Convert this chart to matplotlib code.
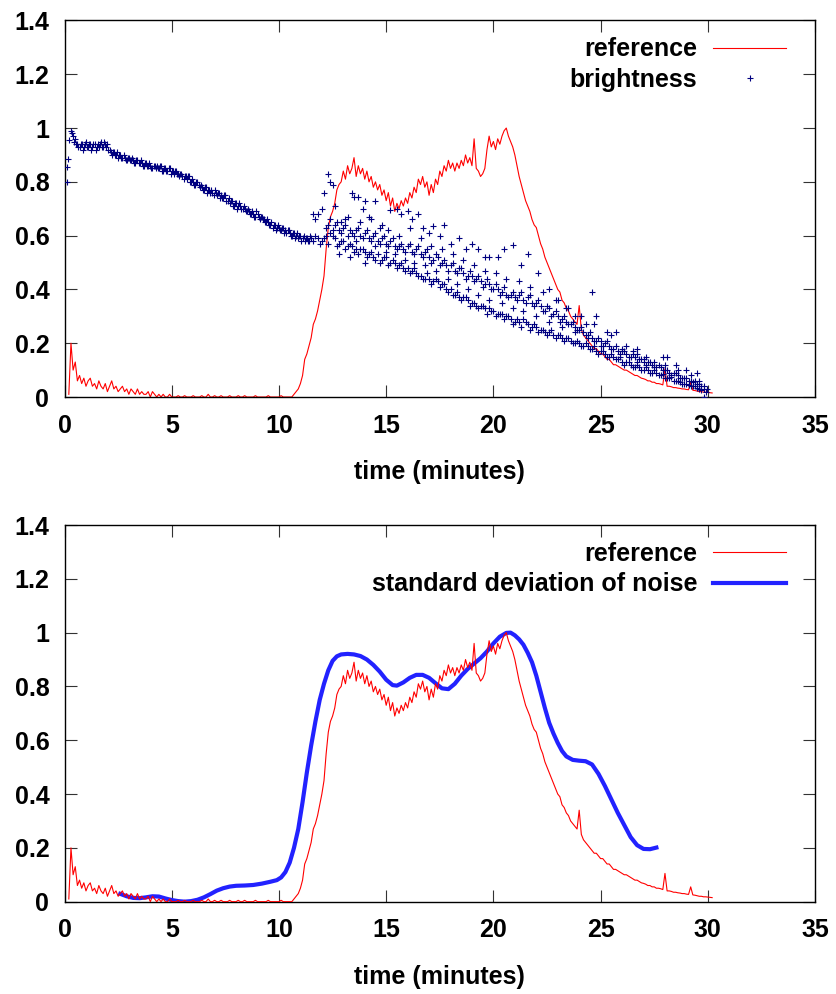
import numpy as np
import matplotlib
matplotlib.use("Agg")
import matplotlib.pyplot as plt

plt.rcParams['font.family'] = ['Liberation Sans', 'DejaVu Sans']
plt.rcParams['font.weight'] = 'bold'
plt.rcParams['axes.labelweight'] = 'bold'

# reference signal, sampled every 0.1 min starting at 0.2 min
ref_start = 0.2
ref_step = 0.1
ref_v = [
    0.01, 0.20, 0.10, 0.13, 0.06, 0.08, 0.05, 0.07, 0.04, 0.06,
    0.07, 0.04, 0.05, 0.03, 0.06, 0.04, 0.03, 0.05, 0.02, 0.04,
    0.06, 0.03, 0.04, 0.02, 0.03, 0.04, 0.02, 0.03, 0.01, 0.03,
    0.02, 0.01, 0.03, 0.01, 0.02, 0.01, 0.01, 0.02, 0.00, 0.02,
    0.01, 0.00, 0.01, 0.00, 0.01, 0.00, 0.00, 0.01, 0.00, 0.00,
    0.00, 0.005, 0.0, 0.0, 0.005, 0.0, 0.0, 0.0, 0.005, 0.0,
    0.0, 0.0, 0.005, 0.0, 0.0, 0.01, 0.0, 0.0, 0.005, 0.0,
    0.0, 0.005, 0.0, 0.0, 0.0, 0.005, 0.0, 0.0, 0.0, 0.005,
    0.0, 0.0, 0.005, 0.0, 0.0, 0.0, 0.0, 0.005, 0.0, 0.0,
    0.0, 0.0, 0.0, 0.005, 0.0, 0.0, 0.0, 0.0, 0.0, 0.005,
    0.0, 0.0, 0.0, 0.0, 0.0, 0.01, 0.02, 0.03, 0.05, 0.08,
    0.14, 0.16, 0.19, 0.22, 0.27, 0.29, 0.32, 0.36, 0.40, 0.45,
    0.55, 0.63, 0.67, 0.69, 0.72, 0.77, 0.79, 0.80, 0.84, 0.81,
    0.86, 0.83, 0.85, 0.89, 0.82, 0.86, 0.83, 0.85, 0.81, 0.84,
    0.80, 0.82, 0.78, 0.80, 0.77, 0.79, 0.75, 0.77, 0.73, 0.76,
    0.71, 0.74, 0.69, 0.72, 0.70, 0.73, 0.71, 0.74, 0.72, 0.76,
    0.74, 0.78, 0.76, 0.81, 0.79, 0.82, 0.78, 0.80, 0.75, 0.79,
    0.76, 0.81, 0.79, 0.84, 0.82, 0.86, 0.84, 0.88, 0.85, 0.87,
    0.84, 0.87, 0.85, 0.88, 0.86, 0.90, 0.87, 0.89, 0.86, 0.96,
    0.85, 0.84, 0.82, 0.83, 0.85, 0.92, 0.97, 0.93, 0.95, 0.92,
    0.96, 0.94, 0.97, 0.99, 1.00, 0.97, 0.95, 0.93, 0.90, 0.86,
    0.82, 0.79, 0.76, 0.73, 0.71, 0.69, 0.66, 0.64, 0.63, 0.60,
    0.57, 0.55, 0.52, 0.50, 0.48, 0.46, 0.44, 0.42, 0.40, 0.39,
    0.36, 0.35, 0.33, 0.32, 0.30, 0.29, 0.28, 0.27, 0.34, 0.25,
    0.23, 0.22, 0.21, 0.20, 0.19, 0.18, 0.18, 0.17, 0.16, 0.16,
    0.15, 0.14, 0.14, 0.13, 0.12, 0.12, 0.115, 0.11, 0.105, 0.10,
    0.10, 0.095, 0.09, 0.085, 0.08, 0.08, 0.075, 0.07, 0.068, 0.065,
    0.06, 0.06, 0.055, 0.055, 0.05, 0.05, 0.048, 0.045, 0.105, 0.04,
    0.04, 0.038, 0.035, 0.035, 0.033, 0.032, 0.03, 0.03, 0.028, 0.027,
    0.055, 0.025, 0.024, 0.022, 0.02, 0.02, 0.018, 0.018, 0.017, 0.016,
    0.015,
]
ref_t = ref_start + ref_step * np.arange(len(ref_v))

# brightness before 11.5 min: two interleaved runs, every 0.1 min
bright_v1 = [
    0.99, 0.97, 0.96, 0.94, 0.93, 0.94, 0.93, 0.95, 0.93, 0.94,
    0.93, 0.94, 0.93, 0.93, 0.95, 0.93, 0.94, 0.94, 0.92, 0.90,
    0.91, 0.90, 0.89, 0.90, 0.89, 0.89, 0.88, 0.89, 0.88, 0.88,
    0.87, 0.88, 0.87, 0.87, 0.86, 0.87, 0.86, 0.86, 0.85, 0.86,
    0.86, 0.85, 0.86, 0.84, 0.85, 0.84, 0.85, 0.84, 0.83, 0.84,
    0.83, 0.83, 0.82, 0.82, 0.81, 0.82, 0.80, 0.80, 0.79, 0.80,
    0.78, 0.78, 0.77, 0.78, 0.77, 0.76, 0.76, 0.77, 0.75, 0.76,
    0.75, 0.74, 0.75, 0.73, 0.72, 0.73, 0.71, 0.72, 0.71, 0.71,
    0.70, 0.70, 0.69, 0.69, 0.68, 0.68, 0.67, 0.68, 0.66, 0.67,
    0.66, 0.65, 0.65, 0.64, 0.63, 0.64, 0.63, 0.63, 0.62, 0.63,
    0.62, 0.62, 0.61, 0.60, 0.61, 0.60, 0.59, 0.60, 0.59, 0.58,
    0.59, 0.58, 0.59,
]
bright_t1 = 0.3 + 0.1 * np.arange(len(bright_v1))

bright_v1b = [
    0.98, 0.95, 0.94, 0.93, 0.94, 0.92, 0.94, 0.93, 0.94, 0.92,
    0.94, 0.92, 0.94, 0.94, 0.93, 0.95, 0.93, 0.92, 0.91, 0.91,
    0.90, 0.91, 0.90, 0.89, 0.90, 0.88, 0.89, 0.88, 0.89, 0.87,
    0.88, 0.87, 0.88, 0.86, 0.87, 0.86, 0.87, 0.85, 0.86, 0.85,
    0.85, 0.86, 0.84, 0.85, 0.84, 0.85, 0.83, 0.84, 0.84, 0.83,
    0.82, 0.83, 0.81, 0.82, 0.82, 0.80, 0.81, 0.79, 0.80, 0.79,
    0.79, 0.77, 0.78, 0.76, 0.77, 0.77, 0.75, 0.76, 0.76, 0.74,
    0.74, 0.75, 0.73, 0.74, 0.73, 0.71, 0.72, 0.70, 0.72, 0.70,
    0.71, 0.69, 0.70, 0.68, 0.69, 0.67, 0.69, 0.67, 0.67, 0.66,
    0.65, 0.66, 0.64, 0.65, 0.64, 0.62, 0.64, 0.62, 0.63, 0.61,
    0.61, 0.62, 0.60, 0.61, 0.59, 0.61, 0.60, 0.58, 0.60, 0.59,
    0.58, 0.60,
]
bright_t1b = 0.35 + 0.1 * np.arange(len(bright_v1b))

# brightness after 11.5 min: lower and middle runs, every 0.2 min (odd tenths)
bright_low_t = 11.7 + 0.2 * np.arange(91)
bright_low_v = [
    0.60, 0.57, 0.59, 0.57, 0.60, 0.56, 0.58, 0.55, 0.57, 0.54,
    0.53, 0.55, 0.52, 0.54, 0.51, 0.50, 0.52, 0.49, 0.51, 0.48,
    0.50, 0.47, 0.46, 0.48, 0.45, 0.44, 0.46, 0.42, 0.44, 0.41,
    0.42, 0.39, 0.38, 0.39, 0.36, 0.37, 0.34, 0.35, 0.33, 0.34,
    0.31, 0.32, 0.30, 0.31, 0.29, 0.30, 0.27, 0.29, 0.26, 0.28,
    0.25, 0.27, 0.24, 0.25, 0.23, 0.25, 0.22, 0.23, 0.21, 0.22,
    0.20, 0.21, 0.19, 0.20, 0.18, 0.19, 0.16, 0.17, 0.15, 0.16,
    0.14, 0.15, 0.12, 0.13, 0.11, 0.12, 0.10, 0.11, 0.09, 0.10,
    0.08, 0.085, 0.07, 0.075, 0.06, 0.055, 0.05, 0.045, 0.04, 0.035,
    0.025,
]
bright_mid_t = 12.3 + 0.2 * np.arange(88)
bright_mid_v = [
    0.64, 0.62, 0.65, 0.61, 0.64, 0.62, 0.60, 0.63, 0.59, 0.62,
    0.58, 0.61, 0.57, 0.60, 0.56, 0.59, 0.55, 0.57, 0.54, 0.57,
    0.53, 0.56, 0.52, 0.55, 0.50, 0.53, 0.49, 0.51, 0.47, 0.50,
    0.46, 0.48, 0.44, 0.47, 0.43, 0.45, 0.41, 0.44, 0.40, 0.42,
    0.38, 0.41, 0.37, 0.39, 0.36, 0.39, 0.35, 0.38, 0.34, 0.36,
    0.32, 0.34, 0.30, 0.32, 0.28, 0.30, 0.27, 0.28, 0.25, 0.26,
    0.23, 0.24, 0.21, 0.22, 0.19, 0.21, 0.18, 0.19, 0.16, 0.17,
    0.15, 0.16, 0.13, 0.14, 0.12, 0.13, 0.11, 0.12, 0.10, 0.10,
    0.08, 0.09, 0.07, 0.07, 0.06, 0.055, 0.05, 0.04,
]

# brightness, first seconds and the scattered part after 11.5 min
bright_t2 = [
    0.1, 0.12, 0.14, 0.2,
    # lower band, even tenths
    11.6, 11.8, 12.0, 12.2, 12.4, 12.6, 12.8, 13.0, 13.2, 13.4, 13.6, 13.8,
    14.0, 14.2, 14.4, 14.6, 14.8, 15.0, 15.2, 15.4, 15.6, 15.8, 16.0, 16.2,
    16.4, 16.6, 16.8, 17.0, 17.2, 17.4, 17.6, 17.8, 18.0, 18.2, 18.4, 18.6,
    18.8, 19.0, 19.2, 19.4, 19.6, 19.8, 20.0, 20.2, 20.4, 20.6, 20.8, 21.0,
    21.2, 21.4, 21.6, 21.8, 22.0, 22.2, 22.4, 22.6, 22.8, 23.0, 23.2, 23.4,
    23.6, 23.8, 24.0, 24.2, 24.4, 24.6, 24.8, 25.0, 25.2, 25.4, 25.6, 25.8,
    26.0, 26.2, 26.4, 26.6, 26.8, 27.0, 27.2, 27.4, 27.6, 27.8, 28.0, 28.2,
    28.4, 28.6, 28.8, 29.0, 29.2, 29.4, 29.6, 29.8, 29.9,
    # middle band, even tenths
    12.2, 12.4, 12.6, 12.8, 13.0, 13.2, 13.4, 13.6, 13.8, 14.0, 14.2, 14.4,
    14.6, 14.8, 15.0, 15.2, 15.4, 15.6, 15.8, 16.0, 16.2, 16.4, 16.6, 16.8,
    17.0, 17.2, 17.4, 17.6, 17.8, 18.0, 18.2, 18.4, 18.6, 18.8, 19.0, 19.2,
    19.4, 19.6, 19.8, 20.0, 20.2, 20.4, 20.6, 20.8, 21.0, 21.2, 21.4, 21.6,
    21.8, 22.0, 22.2, 22.4, 22.6, 22.8, 23.0, 23.2, 23.4, 23.6, 23.8, 24.0,
    24.2, 24.4, 24.6, 24.8, 25.0, 25.2, 25.4, 25.6, 25.8, 26.0, 26.2, 26.4,
    26.6, 26.8, 27.0, 27.2, 27.4, 27.6, 27.8, 28.0, 28.2, 28.4, 28.6, 28.8,
    29.0, 29.2, 29.4, 29.6, 29.8,
    # upper, sparse points
    11.6, 11.7, 11.8, 12.0, 12.1, 12.3, 12.4, 12.5, 12.6, 12.9, 13.2, 13.4,
    13.5, 13.7, 13.9, 14.0, 14.3, 14.5, 14.8, 15.2, 15.5, 15.7, 16.0, 16.2,
    16.5, 16.7, 17.0, 17.2, 17.5, 17.7, 18.0, 18.4, 18.7, 19.0, 19.3, 19.6,
    19.8, 20.2, 20.5, 20.9, 21.3, 21.6, 22.1, 22.6, 23.0, 23.4, 23.8, 24.3,
    24.6, 24.8, 25.3, 25.7, 26.2, 26.7, 26.7, 27.1, 27.9, 28.1, 28.5, 29.0,
    29.5, 29.8, 29.95,
    # between the bands
    12.8, 13.1, 13.3, 13.6, 13.8, 14.0, 14.2, 14.5, 14.7, 15.0, 15.1, 15.4,
    15.6, 15.9, 16.1, 16.3, 16.6, 16.8, 17.1, 17.3, 17.6, 17.9, 18.1, 18.3,
    18.6, 18.8, 19.1, 19.3, 19.6, 19.8, 20.1, 20.4, 20.6, 20.9, 21.2, 21.4,
    21.7, 22.0, 22.3, 22.6, 22.9, 23.2, 23.5, 23.8, 24.1, 24.4, 24.7, 25.0,
    25.5, 26.0, 26.5, 27.0, 27.5, 28.0, 28.6, 29.2, 29.6,
]
bright_v2 = [
    0.80, 0.855, 0.885, 0.955,
    # lower band, even tenths
    0.58, 0.59, 0.58, 0.60, 0.61, 0.59, 0.57, 0.58, 0.56, 0.56, 0.55, 0.55,
    0.54, 0.53, 0.52, 0.53, 0.51, 0.52, 0.50, 0.50, 0.49, 0.48, 0.48, 0.47,
    0.46, 0.45, 0.44, 0.44, 0.43, 0.43, 0.42, 0.40, 0.40, 0.38, 0.37, 0.37,
    0.36, 0.35, 0.34, 0.34, 0.33, 0.33, 0.32, 0.31, 0.31, 0.30, 0.29, 0.28,
    0.28, 0.29, 0.27, 0.26, 0.26, 0.25, 0.24, 0.24, 0.23, 0.23, 0.22, 0.22,
    0.21, 0.20, 0.20, 0.19, 0.19, 0.18, 0.17, 0.17, 0.16, 0.15, 0.15, 0.14,
    0.13, 0.13, 0.12, 0.11, 0.11, 0.10, 0.10, 0.09, 0.09, 0.08, 0.07, 0.07,
    0.06, 0.06, 0.05, 0.05, 0.04, 0.04, 0.03, 0.03, 0.02,
    # middle band, even tenths
    0.63, 0.66, 0.64, 0.62, 0.63, 0.60, 0.61, 0.62, 0.60, 0.61, 0.59, 0.60,
    0.58, 0.59, 0.57, 0.58, 0.56, 0.56, 0.55, 0.56, 0.54, 0.55, 0.53, 0.54,
    0.52, 0.51, 0.52, 0.50, 0.49, 0.49, 0.47, 0.48, 0.46, 0.45, 0.45, 0.44,
    0.43, 0.42, 0.42, 0.40, 0.40, 0.39, 0.38, 0.38, 0.37, 0.38, 0.36, 0.37,
    0.35, 0.35, 0.34, 0.32, 0.33, 0.31, 0.30, 0.29, 0.28, 0.27, 0.26, 0.25,
    0.24, 0.23, 0.22, 0.21, 0.21, 0.20, 0.19, 0.18, 0.17, 0.17, 0.16, 0.15,
    0.15, 0.14, 0.13, 0.13, 0.12, 0.11, 0.11, 0.10, 0.09, 0.09, 0.08, 0.07,
    0.07, 0.06, 0.06, 0.05, 0.04,
    # upper, sparse points
    0.68, 0.66, 0.68, 0.70, 0.76, 0.83, 0.80, 0.79, 0.71, 0.65, 0.67, 0.76,
    0.745, 0.745, 0.70, 0.73, 0.66, 0.73, 0.64, 0.695, 0.70, 0.68, 0.69, 0.66,
    0.68, 0.63, 0.61, 0.635, 0.60, 0.64, 0.57, 0.59, 0.55, 0.57, 0.55, 0.52,
    0.52, 0.52, 0.55, 0.565, 0.49, 0.53, 0.46, 0.40, 0.36, 0.33, 0.30, 0.27,
    0.39, 0.30, 0.24, 0.24, 0.19, 0.18, 0.16, 0.15, 0.15, 0.15, 0.12, 0.10,
    0.09, 0.0, 0.03,
    # between the bands
    0.53, 0.66, 0.52, 0.58, 0.65, 0.50, 0.67, 0.56, 0.63, 0.54, 0.62, 0.53,
    0.60, 0.51, 0.63, 0.50, 0.59, 0.49, 0.56, 0.47, 0.55, 0.44, 0.53, 0.42,
    0.51, 0.40, 0.49, 0.38, 0.47, 0.36, 0.46, 0.35, 0.44, 0.33, 0.43, 0.32,
    0.41, 0.30, 0.39, 0.28, 0.36, 0.26, 0.33, 0.24, 0.30, 0.22, 0.27, 0.19,
    0.23, 0.18, 0.17, 0.14, 0.13, 0.12, 0.10, 0.08, 0.06,
]

# standard deviation of noise (smooth curve)
std_t = [2.6, 2.9, 3.2, 3.5, 3.8, 4.1, 4.4, 4.7, 5.0, 5.3, 5.6, 5.9, 6.2,
         6.5, 6.8, 7.1, 7.4, 7.7, 8.0, 8.4, 8.8, 9.2, 9.6, 9.9, 10.1, 10.3,
         10.5, 10.7, 10.9, 11.1, 11.3, 11.5, 11.7, 11.9, 12.1, 12.3, 12.5,
         12.7, 12.9, 13.2, 13.5, 13.8, 14.1, 14.4, 14.7, 15.0, 15.3, 15.5,
         15.8, 16.1, 16.4, 16.7, 17.0, 17.3, 17.6, 17.9, 18.2, 18.5, 18.8,
         19.1, 19.4, 19.7, 20.0, 20.3, 20.6, 20.8, 21.0, 21.2, 21.4, 21.6,
         21.8, 22.0, 22.2, 22.4, 22.6, 22.8, 23.0, 23.2, 23.4, 23.7, 24.0,
         24.3, 24.6, 24.9, 25.2, 25.5, 25.8, 26.1, 26.4, 26.7, 27.0, 27.3,
         27.6]
std_v = [0.029, 0.02, 0.014, 0.013, 0.016, 0.02, 0.019, 0.012, 0.006,
         0.002, 0.0, 0.002, 0.007, 0.016, 0.028, 0.041, 0.05, 0.056, 0.059,
         0.06, 0.062, 0.067, 0.074, 0.08, 0.09, 0.11, 0.145, 0.2, 0.27, 0.37,
         0.48, 0.58, 0.67, 0.75, 0.81, 0.86, 0.895, 0.912, 0.919, 0.921,
         0.919, 0.913, 0.9, 0.88, 0.855, 0.825, 0.805, 0.803, 0.815, 0.832,
         0.843, 0.843, 0.832, 0.812, 0.793, 0.79, 0.81, 0.84, 0.865, 0.885,
         0.905, 0.93, 0.96, 0.985, 0.999, 1.0, 0.99, 0.975, 0.955, 0.925,
         0.89, 0.84, 0.78, 0.72, 0.665, 0.625, 0.59, 0.56, 0.54, 0.527,
         0.524, 0.522, 0.51, 0.475, 0.43, 0.38, 0.33, 0.285, 0.24, 0.21,
         0.196, 0.195, 0.201]

xticks = [0, 5, 10, 15, 20, 25, 30, 35]
yticks = [0, 0.2, 0.4, 0.6, 0.8, 1, 1.2, 1.4]
ytick_labels = ['0', '0.2', '0.4', '0.6', '0.8', '1', '1.2', '1.4']

fig = plt.figure(figsize=(8.37, 9.94), dpi=100)
ax1 = fig.add_axes([0.0771, 0.6006, 0.8967, 0.3788])
ax2 = fig.add_axes([0.0771, 0.0929, 0.8967, 0.3789])

bright_t = np.concatenate([bright_t1, bright_t1b, bright_low_t, bright_mid_t, bright_t2])
bright_v = bright_v1 + bright_v1b + bright_low_v + bright_mid_v + bright_v2

ax1.plot(ref_t, ref_v, color='#ff0000', lw=0.8, label='reference', zorder=2)
ax1.plot(bright_t, bright_v, ls='none', marker='+', ms=5, mew=0.8,
         color='#000080', label='brightness', zorder=3)

ax2.plot(ref_t, ref_v, color='#ff0000', lw=0.8, label='reference', zorder=3)
ax2.plot(std_t, std_v, color='#2222ff', lw=3.0,
         label='standard deviation of noise', zorder=2)

for ax in (ax1, ax2):
    ax.set_xlim(0, 35)
    ax.set_ylim(0, 1.4)
    ax.set_xticks(xticks)
    ax.set_yticks(yticks)
    ax.set_yticklabels(ytick_labels)
    ax.tick_params(direction='in', length=8.4, width=0.8, top=True,
                   right=True, labelsize=18, color='#333333')
    ax.tick_params(axis='x', pad=12)
    ax.tick_params(axis='y', pad=11)
    for sp in ax.spines.values():
        sp.set_linewidth(1.0)
    ax.set_xlabel('time (minutes)', fontsize=18, labelpad=16)
    ax.legend(loc='upper right', bbox_to_anchor=(0.9614, 0.9554),
              frameon=False, markerfirst=False, fontsize=18,
              handlelength=2.92, handletextpad=0.64, labelspacing=0.26,
              borderpad=0, borderaxespad=0)

fig.savefig('out.png', dpi=100)
